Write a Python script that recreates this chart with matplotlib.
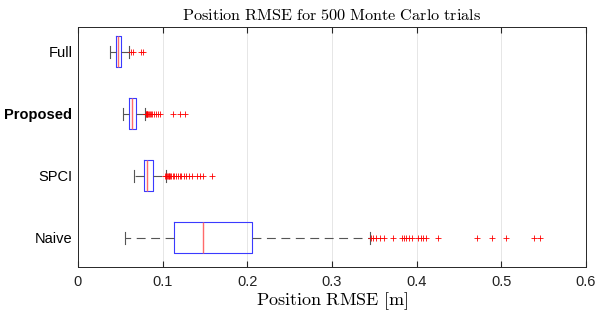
import matplotlib.pyplot as plt

plt.rcParams['mathtext.fontset'] = 'cm'
plt.rcParams['font.family'] = ['Liberation Sans', 'DejaVu Sans']

labels = ['Full', 'Proposed', 'SPCI', 'Naive']

# box stats: whisker low, q1, median, q3, whisker high
wlo = [0.0376, 0.0532, 0.066, 0.056]
q1 = [0.045, 0.0607, 0.078, 0.113]
med = [0.0474, 0.0638, 0.0818, 0.1475]
q3 = [0.0512, 0.0689, 0.0884, 0.206]
whi = [0.0603, 0.079, 0.104, 0.345]

fliers = [
    [0.0626, 0.0646, 0.0748, 0.0767],
    [0.080, 0.0805, 0.081, 0.0815, 0.082, 0.083, 0.084, 0.085, 0.086, 0.088,
     0.090, 0.092, 0.094, 0.097, 0.112, 0.121, 0.126],
    [0.103, 0.104, 0.105, 0.106, 0.107, 0.108, 0.109, 0.110, 0.112, 0.114,
     0.116, 0.118, 0.120, 0.122, 0.125, 0.128, 0.131, 0.135, 0.140, 0.144,
     0.148, 0.1585],
    [0.346, 0.3485, 0.352, 0.357, 0.362, 0.3715, 0.383, 0.3855, 0.388, 0.391,
     0.394, 0.402, 0.405, 0.407, 0.4105, 0.425, 0.4715, 0.489, 0.506, 0.5385,
     0.546],
]

stats = []
for i in range(len(labels)):
    stats.append(dict(whislo=wlo[i], q1=q1[i], med=med[i], q3=q3[i],
                      whishi=whi[i], fliers=fliers[i], label=labels[i]))

fig = plt.figure(figsize=(5.98, 3.11), dpi=100)
ax = fig.add_axes([0.1304, 0.1415, 0.8495, 0.7715])

ax.bxp(stats, positions=[1, 2, 3, 4], vert=False, widths=0.5, capwidths=0.2,
       boxprops=dict(color='#3a3aff', linewidth=0.8),
       medianprops=dict(color='#ff6a6a', linewidth=1.0, zorder=4),
       whiskerprops=dict(color='#555555', linewidth=0.8, linestyle=(0, (8, 5))),
       capprops=dict(color='#555555', linewidth=0.8),
       flierprops=dict(marker='+', markeredgecolor='red', markersize=5,
                       markeredgewidth=0.6, linestyle='none'))

ax.set_ylim(4.47, 0.6)
ax.set_xlim(0, 0.6)
ax.set_xticks([0, 0.1, 0.2, 0.3, 0.4, 0.5, 0.6])
ax.set_xticklabels(['0', '0.1', '0.2', '0.3', '0.4', '0.5', '0.6'], fontsize=10.5)
ax.set_yticks([1, 2, 3, 4])
ax.set_yticklabels(labels, fontsize=10.5)
ax.get_yticklabels()[1].set_fontweight('bold')
ax.tick_params(axis='y', length=0, pad=4)
ax.tick_params(axis='x', direction='in', length=4, top=True, colors='#262626',
               labelcolor='#222222', pad=6)
ax.grid(axis='x', color='#e6e6e6', linewidth=0.7, zorder=0)
ax.set_axisbelow(True)
for s in ax.spines.values():
    s.set_color('#262626')
    s.set_linewidth(0.7)

ax.set_title(r'$\mathrm{Position\ RMSE\ for\ 500\ Monte\ Carlo\ trials}$',
             fontsize=11.7, pad=5)
ax.set_xlabel(r'$\mathrm{Position\ RMSE\ [m]}$', fontsize=13, labelpad=1)

fig.savefig('out.png', dpi=100)
